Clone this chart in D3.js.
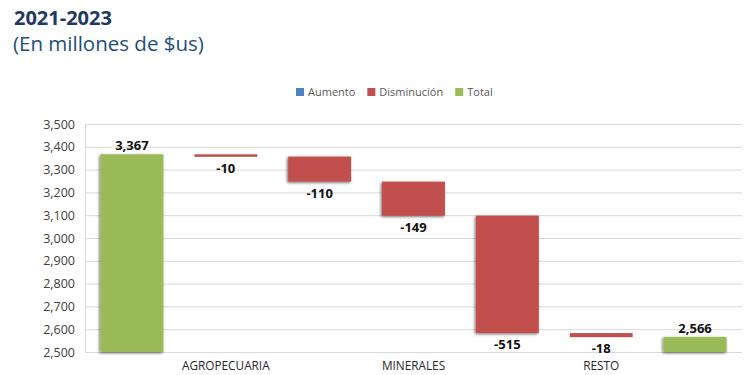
<!DOCTYPE html>
<html>
<head>
<meta charset="utf-8">
<script src="https://cdn.jsdelivr.net/npm/d3@7"></script>
<style>
  body { margin: 0; background: #fff; }
  svg text { font-family: "Open Sans", "Liberation Sans", sans-serif; }
</style>
</head>
<body>
<div class="container"></div>
<script>
// data
const steps = ["Exportaciones 2021", "Agropecuaria", "Sector7", "Minerales", "Sector9", "Resto", "Exportaciones 2023"];
const axisLabels = ["", "AGROPECUARIA", "", "MINERALES", "", "RESTO", ""];
const values = [3367, -10, -110, -149, -515, -18, 2566];
const kinds = ["Total", "Disminución", "Disminución", "Disminución", "Disminución", "Disminución", "Total"];
const yTicks = [2500, 2600, 2700, 2800, 2900, 3000, 3100, 3200, 3300, 3400, 3500];
const legendItems = ["Aumento", "Disminución", "Total"];

var width = 750, height = 375;
var margin = {top: 124, right: 8, bottom: 23, left: 85};

var svg = d3.select(".container").append("svg")
    .attr("width", width)
    .attr("height", height);

// shadow for bars
var defs = svg.append("defs");
var f = defs.append("filter").attr("id", "shadow")
    .attr("x", "-20%").attr("y", "-20%").attr("width", "140%").attr("height", "140%");
f.append("feDropShadow").attr("dx", -1).attr("dy", 1).attr("stdDeviation", 1.8)
    .attr("flood-color", "#000").attr("flood-opacity", 0.6);

const colors = d3.scaleOrdinal().domain(legendItems).range(["#4f81bd", "#c0504d", "#9bbb59"]);
const fmt = v => d3.format(",")(v).replace("\u2212", "-");

// titles
svg.append("text").attr("x", 14).attr("y", 25)
    .attr("font-size", "20px").attr("font-weight", "bold").attr("fill", "#1f3864")
    .text("2021-2023");
svg.append("text").attr("x", 13).attr("y", 51)
    .attr("font-size", "20.5px").attr("fill", "#1f4e79")
    .text("(En millones de $us)");

// waterfall bases
let running = 0;
const bars = values.map((v, i) => {
  let y0, y1;
  if (kinds[i] == "Total") { y0 = yTicks[0]; y1 = v; running = v; }
  else { y0 = running; y1 = running + v; running = y1; }
  return {step: steps[i], value: v, kind: kinds[i], lo: Math.min(y0, y1), hi: Math.max(y0, y1)};
});

var x = d3.scaleBand().domain(steps)
    .range([margin.left, width - margin.right])
    .paddingInner(0.33).paddingOuter(0.165);
var y = d3.scaleLinear().domain([2500, 3500]).range([height - margin.bottom, margin.top]);

// grid
svg.append("g")
  .attr("transform", `translate(${margin.left},0)`)
  .call(d3.axisLeft(y).tickValues(yTicks).tickSize(-(width - margin.right - margin.left)).tickFormat(d3.format(",")))
  .call(g => g.select(".domain").attr("stroke", "#d9d9d9"))
  .call(g => g.selectAll(".tick line").attr("stroke", "#d9d9d9"))
  .call(g => g.selectAll(".tick text").attr("x", -10).attr("fill", "#404040")
        .attr("font-size", "12.5px"));

// x labels
svg.append("g")
  .attr("transform", `translate(0,${height - margin.bottom})`)
  .call(d3.axisBottom(x).tickSize(0).tickFormat((d, i) => axisLabels[i]))
  .call(g => g.select(".domain").remove())
  .call(g => g.selectAll(".tick text").attr("dy", "1.25em").attr("fill", "#262626")
        .attr("font-size", "11.8px"));

// bars
svg.selectAll("rect.bar")
  .data(bars)
  .enter()
  .append("rect")
  .attr("class", "bar")
  .attr("x", d => x(d.step))
  .attr("width", x.bandwidth())
  .attr("y", d => y(d.hi))
  .attr("height", d => Math.max(2.5, y(d.lo) - y(d.hi)))
  .attr("fill", d => colors(d.kind))
  .attr("filter", d => Math.abs(d.value) > 50 ? "url(#shadow)" : null);

// value labels
svg.selectAll("text.val")
  .data(bars)
  .enter()
  .append("text")
  .attr("class", "val")
  .attr("x", d => x(d.step) + x.bandwidth() / 2)
  .attr("y", d => d.kind == "Total" ? y(d.hi) - 4 : y(d.lo) + 16)
  .attr("text-anchor", "middle")
  .attr("font-size", "13px").attr("font-weight", "bold").attr("fill", "#111")
  .text(d => fmt(d.value));

// legend
var legend = svg.append("g").attr("transform", "translate(296,92)");
var lx = 0;
legendItems.forEach(name => {
  const item = legend.append("g").attr("transform", `translate(${lx},0)`);
  item.append("rect").attr("x", 0).attr("y", -4).attr("width", 8).attr("height", 8).attr("fill", colors(name));
  const t = item.append("text").attr("x", 12).attr("y", 4)
      .attr("font-size", "11px").attr("fill", "#595959").text(name);
  lx += 12 + t.node().getComputedTextLength() + 12;
});
</script>
</body>
</html>
